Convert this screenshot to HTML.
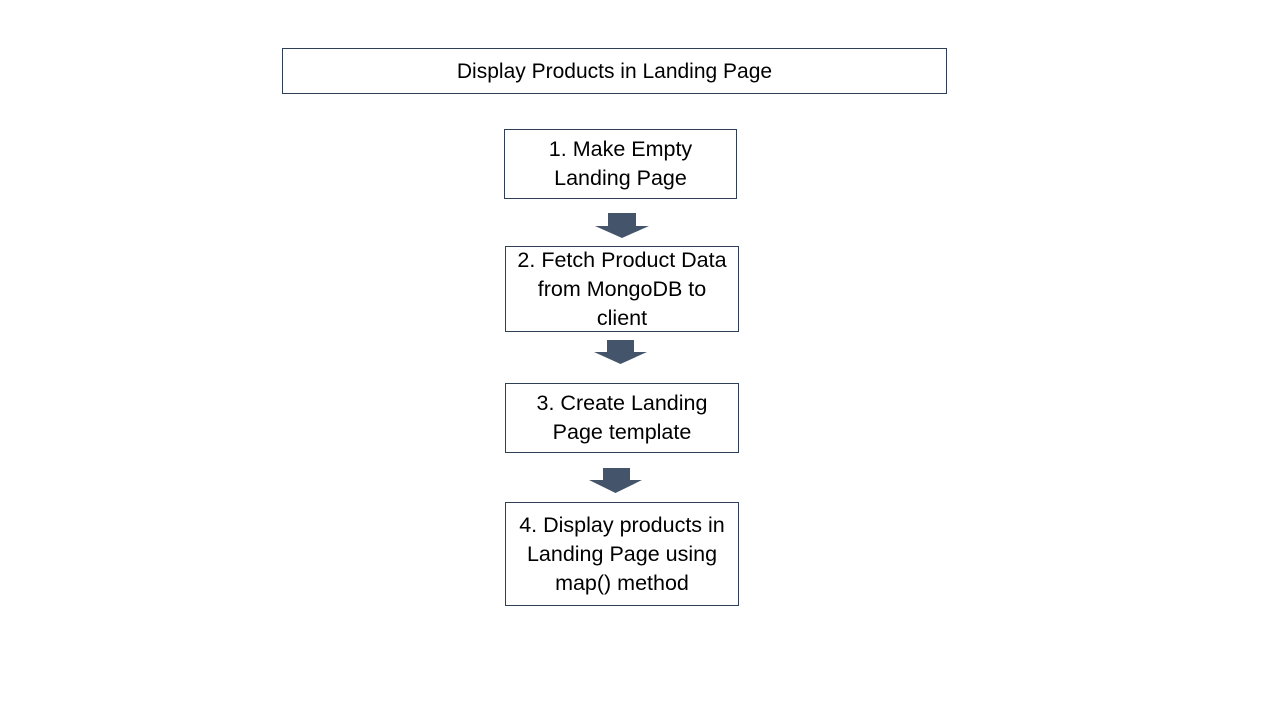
<!DOCTYPE html>
<html><head><style>
body{margin:0;width:1280px;height:720px;background:#fff;position:relative;font-family:"Liberation Sans",sans-serif;overflow:hidden}
.b{position:absolute;border:1px solid #2f3f55;box-sizing:border-box;display:flex;align-items:center;justify-content:center;text-align:center;font-size:21.5px;line-height:29px;color:#000;white-space:nowrap}
</style></head><body>
<div class="b" style="left:282px;top:48px;width:665px;height:46px;font-size:21px">Display Products in Landing Page</div>
<div class="b" style="left:504px;top:129px;width:233px;height:70px">1. Make Empty<br>Landing Page</div>
<div class="b" style="left:505px;top:246px;width:234px;height:86px">2. Fetch Product Data<br>from MongoDB to<br>client</div>
<div class="b" style="left:505px;top:383px;width:234px;height:70px">3. Create Landing<br>Page template</div>
<div class="b" style="left:505px;top:502px;width:234px;height:104px">4. Display products in<br>Landing Page using<br>map() method</div>
<svg width="1280" height="720" style="position:absolute;left:0;top:0">
<g fill="#44546a">
<polygon points="608,213 636,213 636,226 649,226 622,238 595,226 608,226"/>
<polygon points="607,340 634,340 634,352 647,352 620.5,364 594,352 607,352"/>
<polygon points="603,468 630,468 630,480 642,480 615.5,493 589,480 603,480"/>
</g></svg>
</body></html>
